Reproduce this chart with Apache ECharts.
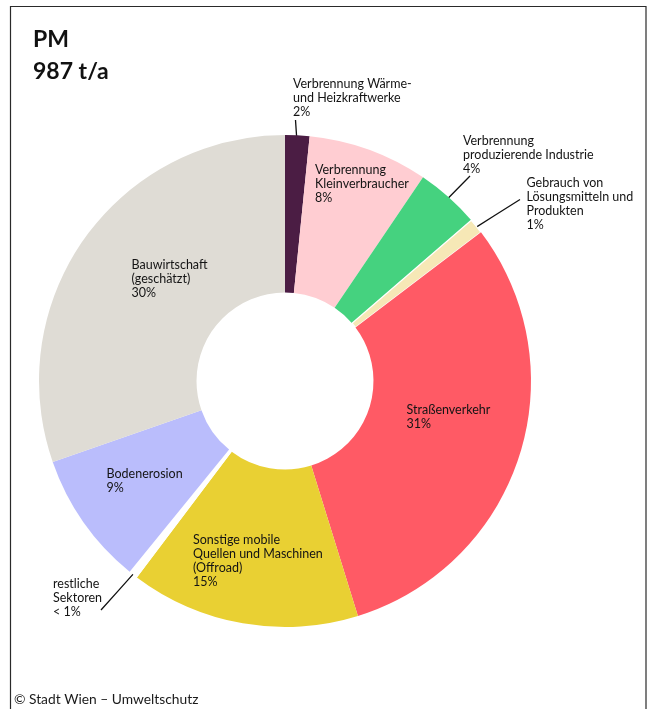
<!DOCTYPE html>
<html>
<head>
<meta charset="utf-8">
<script src="https://cdn.jsdelivr.net/npm/echarts@6/dist/echarts.min.js"></script>
<style>
  html, body { margin: 0; padding: 0; background: #fff; }
  #chart { width: 653px; height: 709px; }
</style>
</head>
<body>
<div id="chart"></div>
<script>
// PM emissions by sector, share of total in percent (total 987 t/a)
const categories = [
  'Verbrennung Wärme-\nund Heizkraftwerke',
  'Verbrennung\nKleinverbraucher',
  'Verbrennung\nproduzierende Industrie',
  'Gebrauch von\nLösungsmitteln und\nProdukten',
  'Straßenverkehr',
  'Sonstige mobile\nQuellen und Maschinen\n(Offroad)',
  'restliche\nSektoren',
  'Bodenerosion',
  'Bauwirtschaft\n(geschätzt)'
];
const shares = [1.6, 7.9, 4.2, 1.0, 30.6, 15.1, 0.6, 8.8, 30.4];
const titleLines = ['PM', '987 t/a'];
const sourceText = '© Stadt Wien – Umweltschutz';

// Styling
const sliceColors = ['#4b1d44', '#ffcdd2', '#45d27f', '#f6e8b6', '#ff5a65',
                     '#e9d033', '#ffffff', '#babdfc', '#dfdcd5'];
const FONT = 'Lato, "Noto Sans", sans-serif';
const LH = 14;
const CENTER = [285, 381];
const RADIUS = [88.5, 246];

// Label placement: left edge and first-line centre; optional leader-line end
const labelPlacement = [
  { x: 293, y: 84, line: [295.5, 120] },
  { x: 315, y: 169.5 },
  { x: 463, y: 140.5, line: [470, 176] },
  { x: 526.5, y: 182.5, line: [520, 199.5] },
  { x: 406.5, y: 410 },
  { x: 193, y: 539.5 },
  { x: 53, y: 583.5, line: [101, 610] },
  { x: 106.5, y: 473.5 },
  { x: 131.5, y: 265 }
];

function shareText(v) {
  return v < 1 ? '< 1%' : Math.round(v) + '%';
}

const total = shares.reduce((a, b) => a + b, 0);
function midPoint(i, r) {
  let before = 0;
  for (let k = 0; k < i; k++) before += shares[k];
  const a = ((before + shares[i] / 2) / total) * Math.PI * 2;
  return [CENTER[0] + r * Math.sin(a), CENTER[1] - r * Math.cos(a)];
}

const pieData = categories.map((name, i) => {
  const hasLine = !!labelPlacement[i].line;
  const item = {
    name: name,
    value: shares[i],
    itemStyle: { color: sliceColors[i] },
    labelLine: { show: hasLine }
  };
  if (i === 3) {
    item.itemStyle.borderColor = '#ffffff';
    item.itemStyle.borderWidth = 1.2;
  }
  return item;
});

const chart = echarts.init(document.getElementById('chart'), null, { renderer: 'canvas' });

chart.setOption({
  animation: false,
  backgroundColor: '#ffffff',
  title: [{
    text: titleLines.join('\n'),
    left: 33,
    top: 23,
    padding: 0,
    textStyle: {
      fontFamily: FONT,
      fontSize: 23,
      fontWeight: 'bold',
      color: '#111111',
      lineHeight: 32.5
    }
  }, {
    text: sourceText,
    left: 14,
    top: 692,
    padding: 0,
    textStyle: {
      fontFamily: FONT,
      fontSize: 13.8,
      fontWeight: 'normal',
      color: '#1a1a1a',
      lineHeight: 16
    }
  }],
  graphic: [{
    type: 'rect',
    silent: true,
    z: -1,
    shape: { x: 10.5, y: 6.5, width: 635.5, height: 730 },
    style: { fill: null, stroke: '#2a2a2a', lineWidth: 1.2 }
  }],
  series: [{
    type: 'pie',
    center: CENTER,
    radius: RADIUS,
    startAngle: 90,
    clockwise: true,
    avoidLabelOverlap: false,
    silent: true,
    emphasis: { disabled: true },
    itemStyle: { borderWidth: 0 },
    label: {
      show: true,
      position: 'outside',
      formatter: p => p.name + '\n' + shareText(p.value),
      fontFamily: FONT,
      fontSize: 12.5,
      lineHeight: LH,
      color: '#141414',
      align: 'left',
      overflow: 'none',
      textBorderWidth: 0
    },
    labelLine: {
      length: 6,
      length2: 6,
      lineStyle: { color: '#111111', width: 1.3 }
    },
    labelLayout: function (params) {
      const i = params.dataIndex;
      const L = labelPlacement[i];
      const out = {
        x: L.x,
        y: L.y - LH / 2,
        align: 'left',
        verticalAlign: 'top'
      };
      if (L.line) {
        let start;
        const pts = params.labelLinePoints;
        if (pts && pts[0]) {
          // pull the line start a little inside the outer rim
          const dx = pts[0][0] - CENTER[0], dy = pts[0][1] - CENTER[1];
          const d = Math.sqrt(dx * dx + dy * dy) || 1;
          const r = d - 7;
          start = [CENTER[0] + dx / d * r, CENTER[1] + dy / d * r];
        } else {
          start = midPoint(i, RADIUS[1] - 7);
        }
        const end = L.line;
        out.labelLinePoints = [start, [(start[0] + end[0]) / 2, (start[1] + end[1]) / 2], end];
      }
      return out;
    },
    data: pieData
  }]
});
</script>
</body>
</html>
